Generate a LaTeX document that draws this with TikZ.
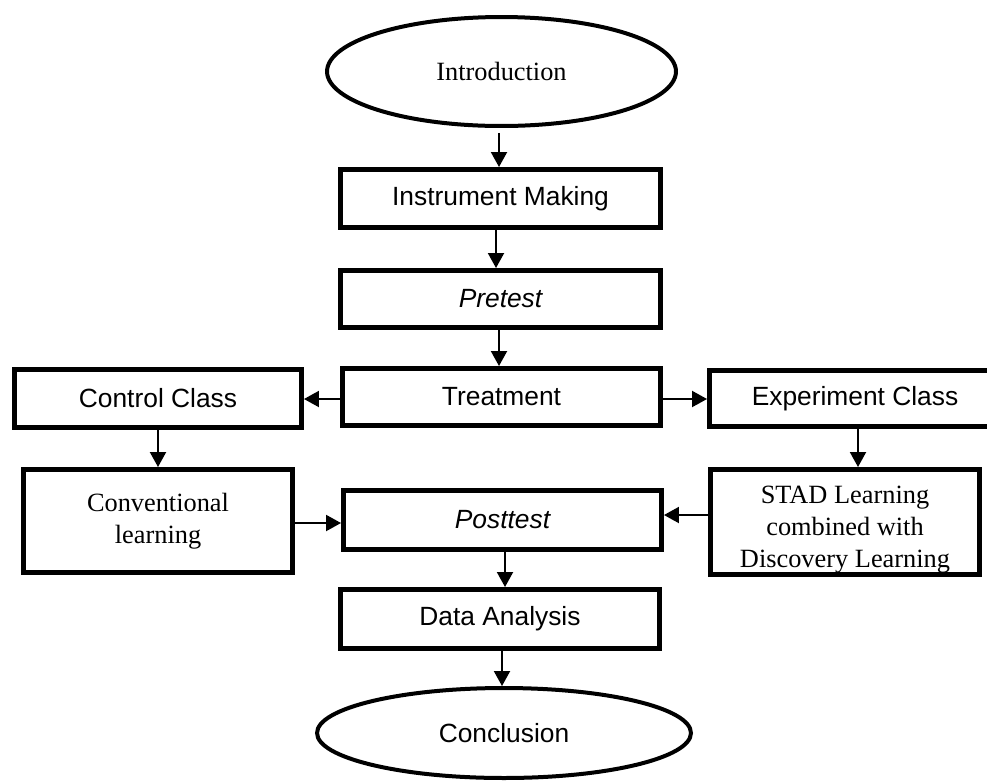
\documentclass[tikz,border=0pt]{standalone}
\usepackage{fontspec}
\setmainfont{Liberation Serif}
\setsansfont{Liberation Sans}
\usetikzlibrary{arrows.meta,shapes.geometric}
\tikzset{>={Triangle[length=0.3cm,width=0.32cm]}}
\tikzset{
  box/.style={draw,line width=0.1cm,inner sep=0pt,font=\sffamily\fontsize{15}{18}\selectfont},
  oval/.style={draw,ellipse,line width=0.08cm,inner sep=0pt,font=\sffamily\fontsize{15}{18}\selectfont},
  serif/.style={font=\rmfamily\fontsize{15}{18}\selectfont,align=center},
  arr/.style={->,line width=0.04cm}
}

\begin{document}
\begin{tikzpicture}[x=0.02cm,y=-0.02cm]
\useasboundingbox (0,0) rectangle (987,782);
\node[oval,serif,minimum width=6.98cm,minimum height=2.18cm] (intro) at (501.5,71.5) {Introduction};
\node[box,minimum width=6.4cm,minimum height=1.16cm] (instr) at (500.5,198.5) {Instrument Making};
\node[box,minimum width=6.4cm,minimum height=1.14cm] (pre) at (500.5,299) {\itshape Pretest};
\node[box,minimum width=6.36cm,minimum height=1.14cm] (treat) at (501.5,397) {Treatment};
\node[box,minimum width=5.74cm,minimum height=1.16cm] (ctrl) at (158,398.5) {Control Class};
\node[box,minimum width=5.82cm,minimum height=1.12cm] (expm) at (855,398.5) {Experiment Class};
\node[box,serif,minimum width=5.38cm,minimum height=2.06cm] (conv) at (158,521) {Conventional\\learning};
\node[box,minimum width=6.36cm,minimum height=1.18cm] (post) at (502.5,520) {\itshape Posttest};
\node[box,minimum width=5.38cm,minimum height=2.1cm] (stad) at (845,522) {};
\begin{scope}
\clip (stad.north west) rectangle ([yshift=0.1cm]stad.south east);
\node[serif] (stadtxt) at ([yshift=-0.15cm]stad.center) {STAD Learning\\combined with\\Discovery Learning};
\end{scope}
\node[box,minimum width=6.38cm,minimum height=1.18cm] (data) at (500,619) {Data Analysis};
\node[oval,minimum width=7.48cm,minimum height=1.8cm] (concl) at (504,733) {Conclusion};

\draw[arr,shorten <=0.1cm] ([xshift=-0.05cm]intro.south) -- ([xshift=-0.05cm]intro.south |- instr.north);
\draw[arr] ([xshift=-0.09cm]instr.south) -- ([xshift=-0.09cm]instr.south |- pre.north);
\draw[arr] ([xshift=-0.03cm]pre.south) -- ([xshift=-0.03cm]pre.south |- treat.north);
\draw[arr] ([yshift=-0.04cm]treat.west) -- ([yshift=-0.04cm]treat.west -| ctrl.east);
\draw[arr] ([yshift=-0.04cm]treat.east) -- ([yshift=-0.04cm]treat.east -| expm.west);
\draw[arr] (ctrl.south) -- (ctrl.south |- conv.north);
\draw[arr] ([xshift=0.06cm]expm.south) -- ([xshift=0.06cm]expm.south |- stad.north);
\draw[arr] ([yshift=-0.04cm]conv.east) -- ([yshift=-0.04cm]conv.east -| post.west);
\draw[arr] ([yshift=0.14cm]stad.west) -- ([yshift=0.14cm]stad.west -| post.east);
\draw[arr] ([xshift=0.05cm]post.south) -- ([xshift=0.05cm]post.south |- data.north);
\draw[arr] ([xshift=0.04cm]data.south) -- ([xshift=0.04cm]data.south |- concl.north);
\end{tikzpicture}
\end{document}
